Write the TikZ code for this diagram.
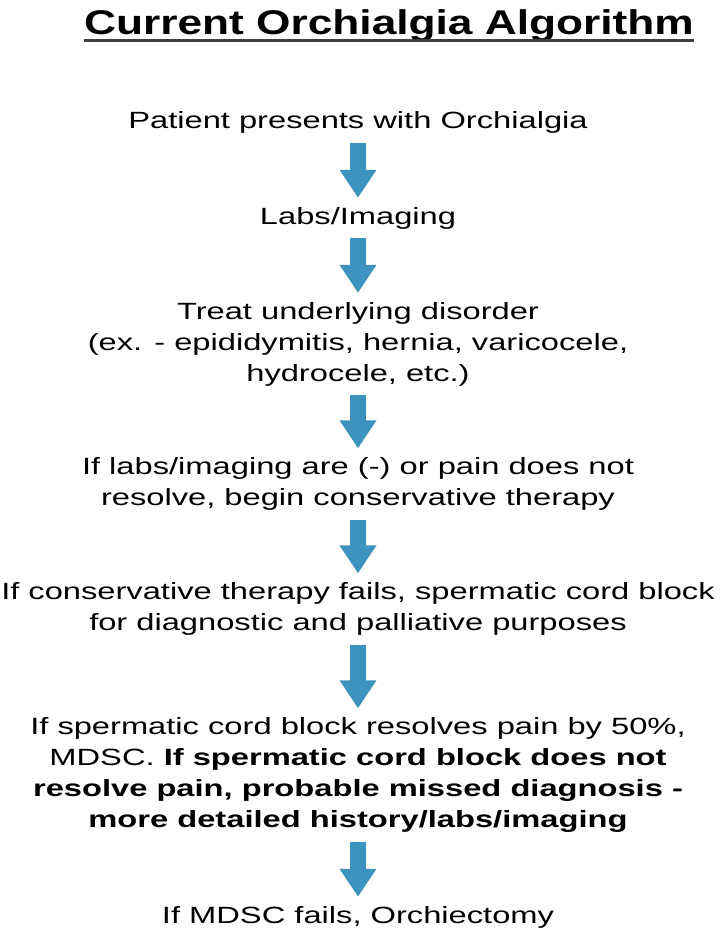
\documentclass[tikz,border=0pt]{standalone}
\usepackage{fontspec}
\setmainfont{Liberation Sans}
\usetikzlibrary{arrows.meta}
\definecolor{flowblue}{RGB}{60,147,190}

\begin{document}
\begin{tikzpicture}[x=1pt,y=-1pt,
    heading/.style={font=\fontsize{34.3}{40}\selectfont\bfseries, inner sep=0pt,
        xscale=1.29, transform shape},
    stage/.style={font=\fontsize{23.5}{31}\selectfont, inner sep=0pt, align=center,
        xscale=1.39, transform shape},
    flow/.style={flowblue, line width=16pt, -{Triangle[width=35pt,length=28pt]},
        shorten <=9pt, shorten >=9pt}]
    % Define centre line of the steps
    \def\cx{-2}

    % Fix page size
    \useasboundingbox (-360,0) rectangle (360,936);
    \fill[white] (-360,0) rectangle (360,936);

    % Draw title with underline
    \node[heading, anchor=base] (title) at (29,35) {Current Orchialgia Algorithm};
    \draw[black!75, line width=3pt] ([yshift=-6pt]title.base west) -- ([yshift=-6pt]title.base east);

    % Draw steps
    \node[stage, anchor=base] (patient) at (\cx,129) {Patient presents with Orchialgia};
    \node[stage, anchor=base] (labs) at (\cx,224) {Labs/Imaging};
    \node[stage] (treat) at (\cx,344) {Treat underlying disorder\\
        (ex. - epididymitis, hernia, varicocele,\\hydrocele, etc.)};
    \node[stage] (conserv) at (\cx,484) {If labs/imaging are (-) or pain does not\\
        resolve, begin conservative therapy};
    \node[stage] (block) at (\cx,609) {If conservative therapy fails, spermatic cord block\\
        for diagnostic and palliative purposes};
    \node[stage] (mdsc) at (\cx,775) {If spermatic cord block resolves pain by 50\%,\\
        MDSC. \textbf{If spermatic cord block does not}\\
        \textbf{resolve pain, probable missed diagnosis -}\\
        \textbf{more detailed history/labs/imaging}};
    \node[stage, anchor=base] (orch) at (\cx,923) {If MDSC fails, Orchiectomy};

    % Draw arrows between steps
    \draw[flow] (patient.south) -- (labs.north);
    \draw[flow] (labs.south) -- (treat.north);
    \draw[flow] (treat.south) -- (conserv.north);
    \draw[flow] (conserv.south) -- (block.north);
    \draw[flow] (block.south) -- (mdsc.north);
    \draw[flow] (mdsc.south) -- (orch.north);

\end{tikzpicture}
\end{document}
